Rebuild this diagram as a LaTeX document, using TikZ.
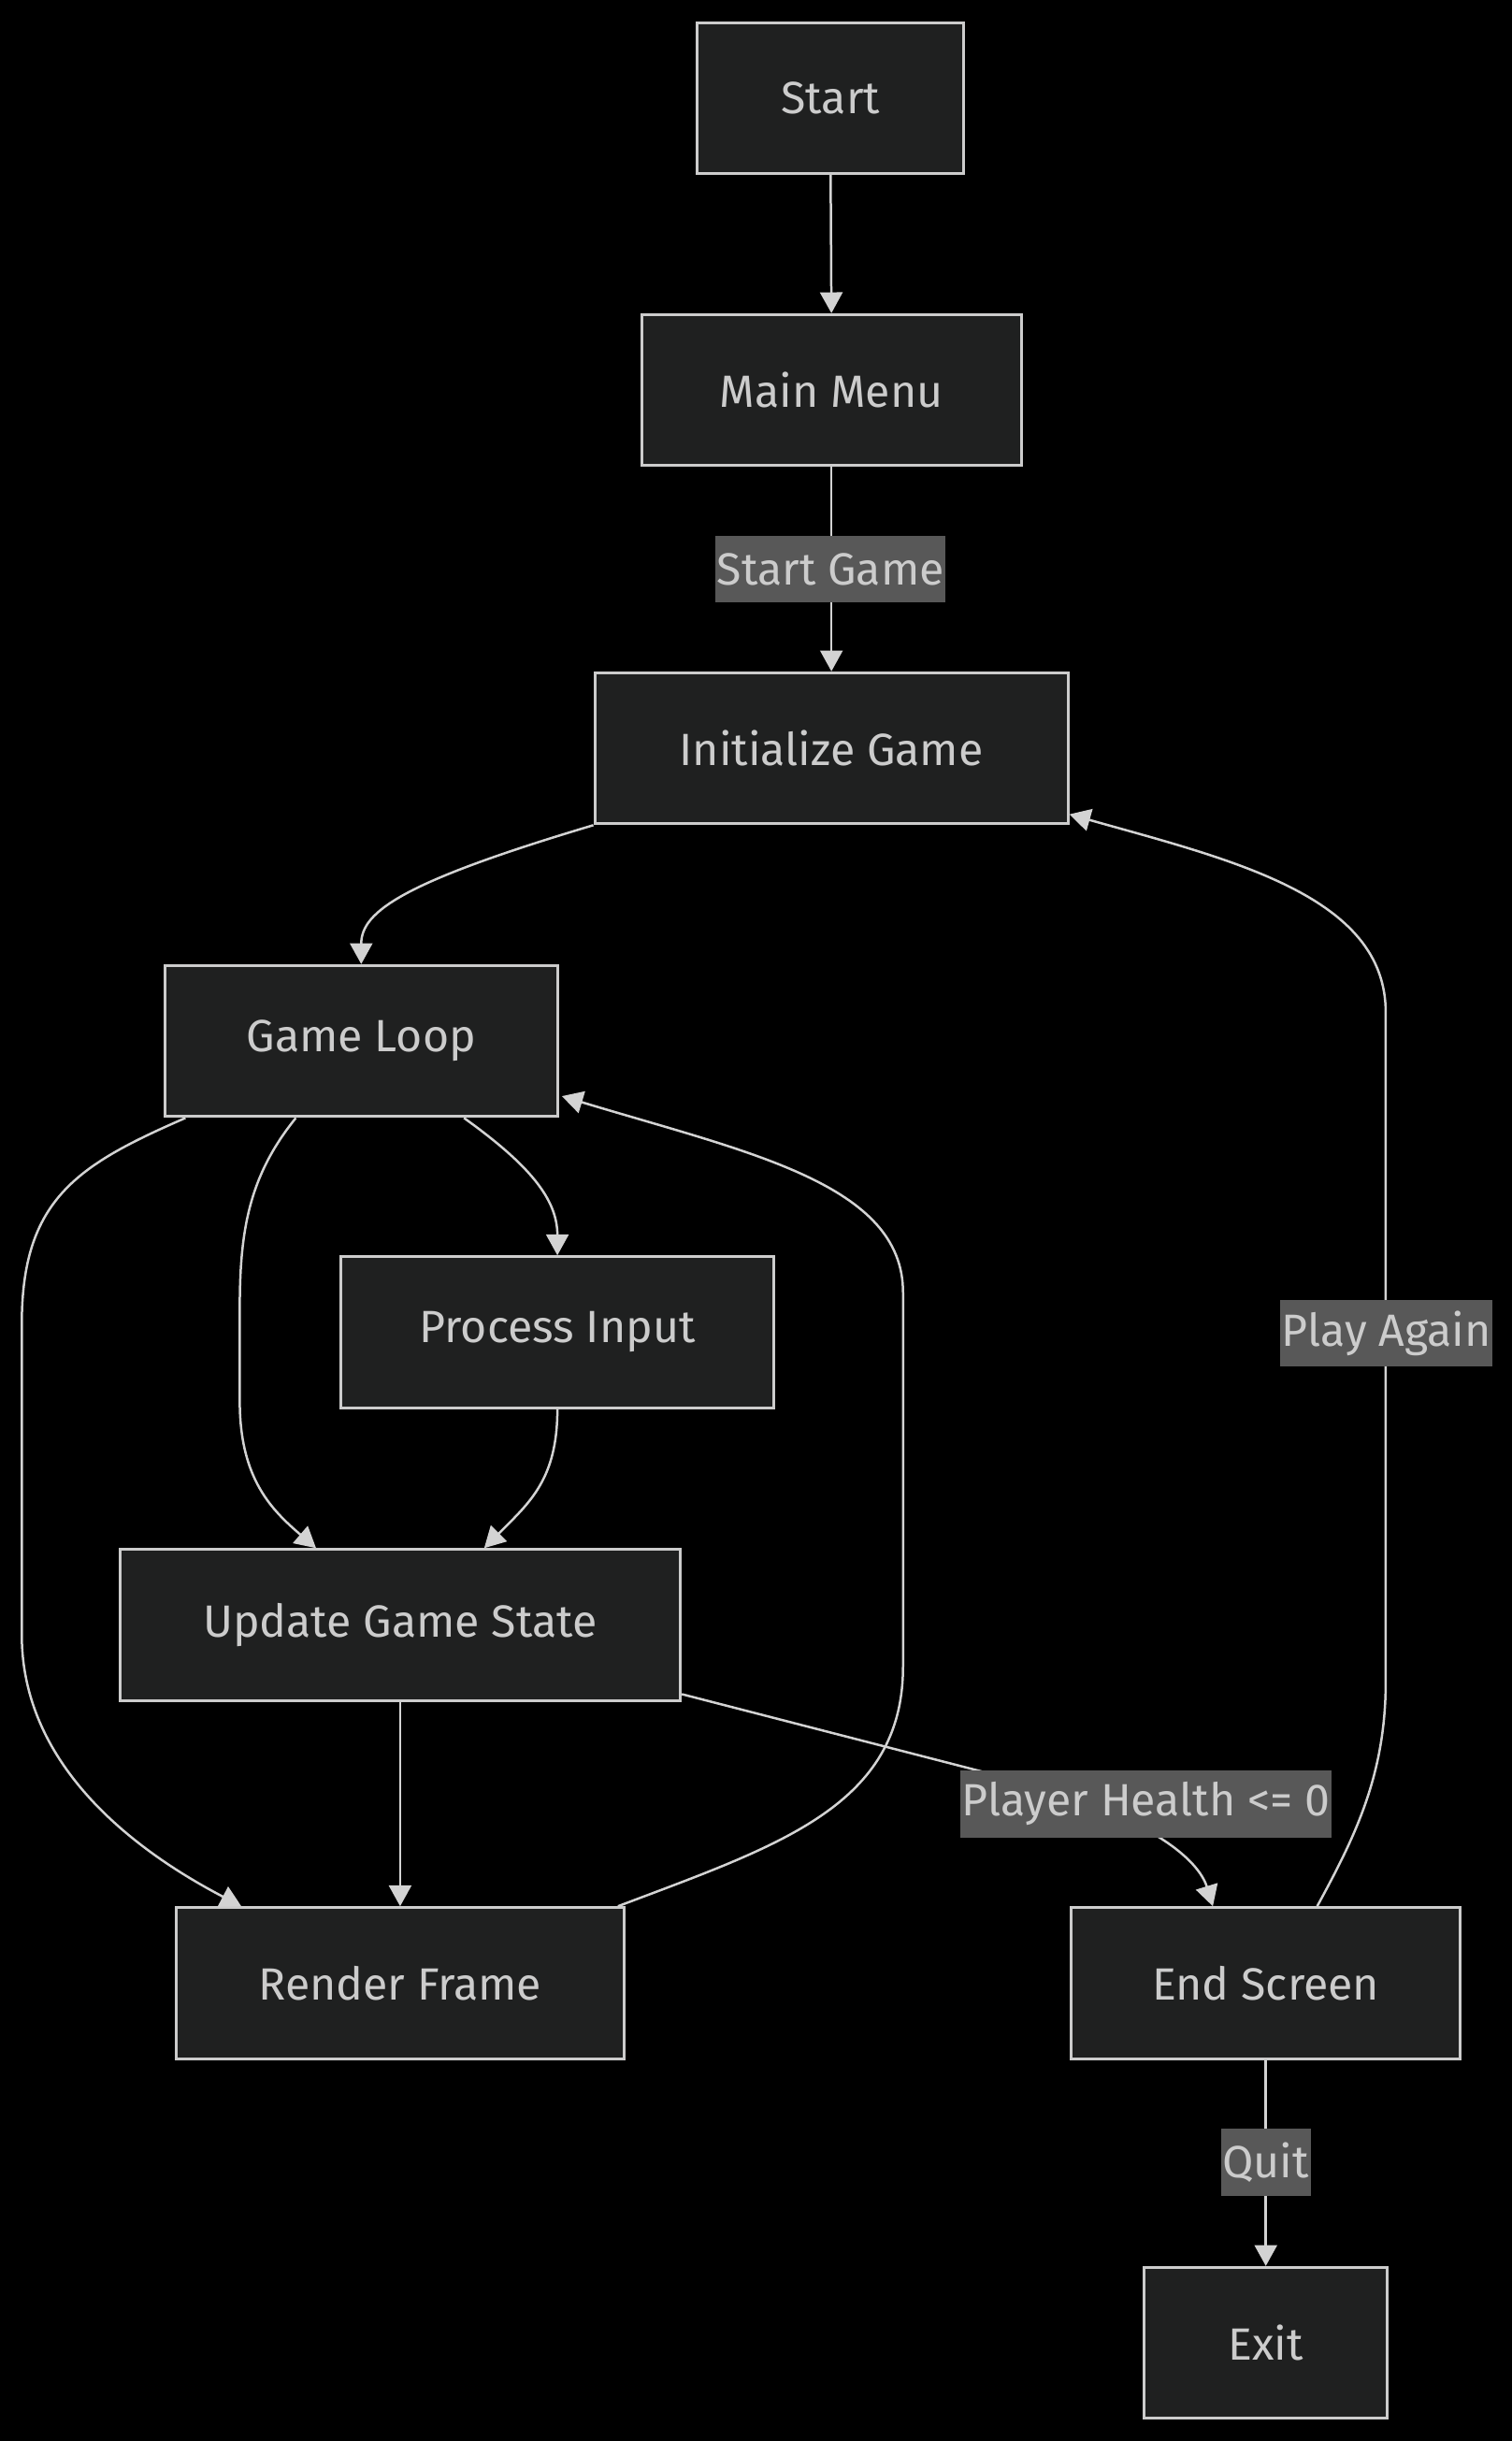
\documentclass[tikz,border=0pt]{standalone}
\usepackage{fontspec}
\setmainfont{Fira Sans}
\usetikzlibrary{arrows.meta,calc}
\definecolor{bgc}{HTML}{000000}
\definecolor{nodefill}{HTML}{1F2020}
\definecolor{nodeline}{HTML}{CCCCCC}
\definecolor{txt}{HTML}{CCCCCC}
\definecolor{lblbg}{HTML}{585858}
\definecolor{edgec}{HTML}{D3D3D3}
\begin{document}
\begin{tikzpicture}[x=0.5pt,y=-0.5pt,
  box/.style={draw=nodeline, line width=0.9pt, fill=nodefill, text=txt,
    font=\fontsize{14.5}{17}\selectfont, inner sep=0pt, minimum height=48.5pt},
  lbl/.style={fill=lblbg, text=txt, font=\fontsize{14.5}{17}\selectfont,
    inner xsep=0.5pt, inner ysep=0pt, minimum height=21.5pt},
  flow/.style={draw=edgec, line width=0.75pt, -{Triangle[length=6.7pt,width=7.2pt]}},
  plainedge/.style={draw=edgec, line width=0.75pt}]
\fill[bgc] (0,0) rectangle (971,1567.5);
\useasboundingbox (0,0) rectangle (971,1567.5);

\node[box, minimum width=85.5pt] (start) at (533.5,63) {Start};
\node[box, minimum width=122pt] (mm) at (534,250.5) {Main Menu};
\node[box, minimum width=152pt] (init) at (534,480.5) {Initialize Game};
\node[box, minimum width=126pt] (gl) at (232,668.5) {Game Loop};
\node[box, minimum width=139pt] (pi) at (358,855.5) {Process Input};
\node[box, minimum width=180pt] (upd) at (257,1043.5) {Update Game State};
\node[box, minimum width=144pt] (render) at (257,1273.5) {Render Frame};
\node[box, minimum width=125pt] (endscr) at (813,1273.5) {End Screen};
\node[box, minimum width=78pt] (exit) at (813,1504.5) {Exit};

% edges
\draw[flow] (start.south) -- (mm.north);
\draw[flow] (mm.south) -- (init.north);
\draw[flow] (init.south west) .. controls (260,566) and (232,585) .. (gl.north);
\draw[flow] ($(endscr.north)+(33,0)$) .. controls (870,1180) and (890,1140) .. (890,1080)
   -- (890,650) .. controls (890,575) and (790,552) .. ($(init.south east)+(0,-7)$);
\draw[flow] ($(gl.south)+(66,0)$) .. controls (340,748) and (358,770) .. (pi.north);
\draw[flow] ($(gl.south)+(-42,0)$) .. controls (160,755) and (154,790) .. (154,840)
   -- (154,900) .. controls (154,950) and (175,970) .. ($(upd.north)+(-54,0)$);
\draw[flow] (pi.south) .. controls (358,950) and (340,965) .. ($(upd.north)+(54,0)$);
\draw[flow] ($(gl.south west)+(14,0)$) .. controls (50,748) and (14,770) .. (14,850)
   -- (14,1050) .. controls (14,1130) and (80,1185) .. ($(render.north)+(-102,0)$);
\draw[flow] (upd.south) -- (render.north);
\draw[flow] ($(render.north east)+(-5,0)$) .. controls (500,1185) and (580,1160) .. (580,1070)
   -- (580,830) .. controls (580,760) and (480,740) .. ($(gl.south east)+(2,-14)$);
\draw[flow] ($(upd.south east)+(0,-5)$) -- (640,1140) .. controls (740,1165) and (770,1195) .. ($(endscr.north)+(-34,0)$);
\draw[flow] (endscr.south) -- (exit.north);

% edge labels
\node[lbl] (lsg) at (533.5,365.5) {Start Game};
\node[lbl] (lpa) at (890.5,856) {Play Again};
\node[lbl] (lph) at (736,1158.5) {Player Health <= 0};
\node[lbl] (lq) at (813,1388.5) {Quit};
\end{tikzpicture}
\end{document}
